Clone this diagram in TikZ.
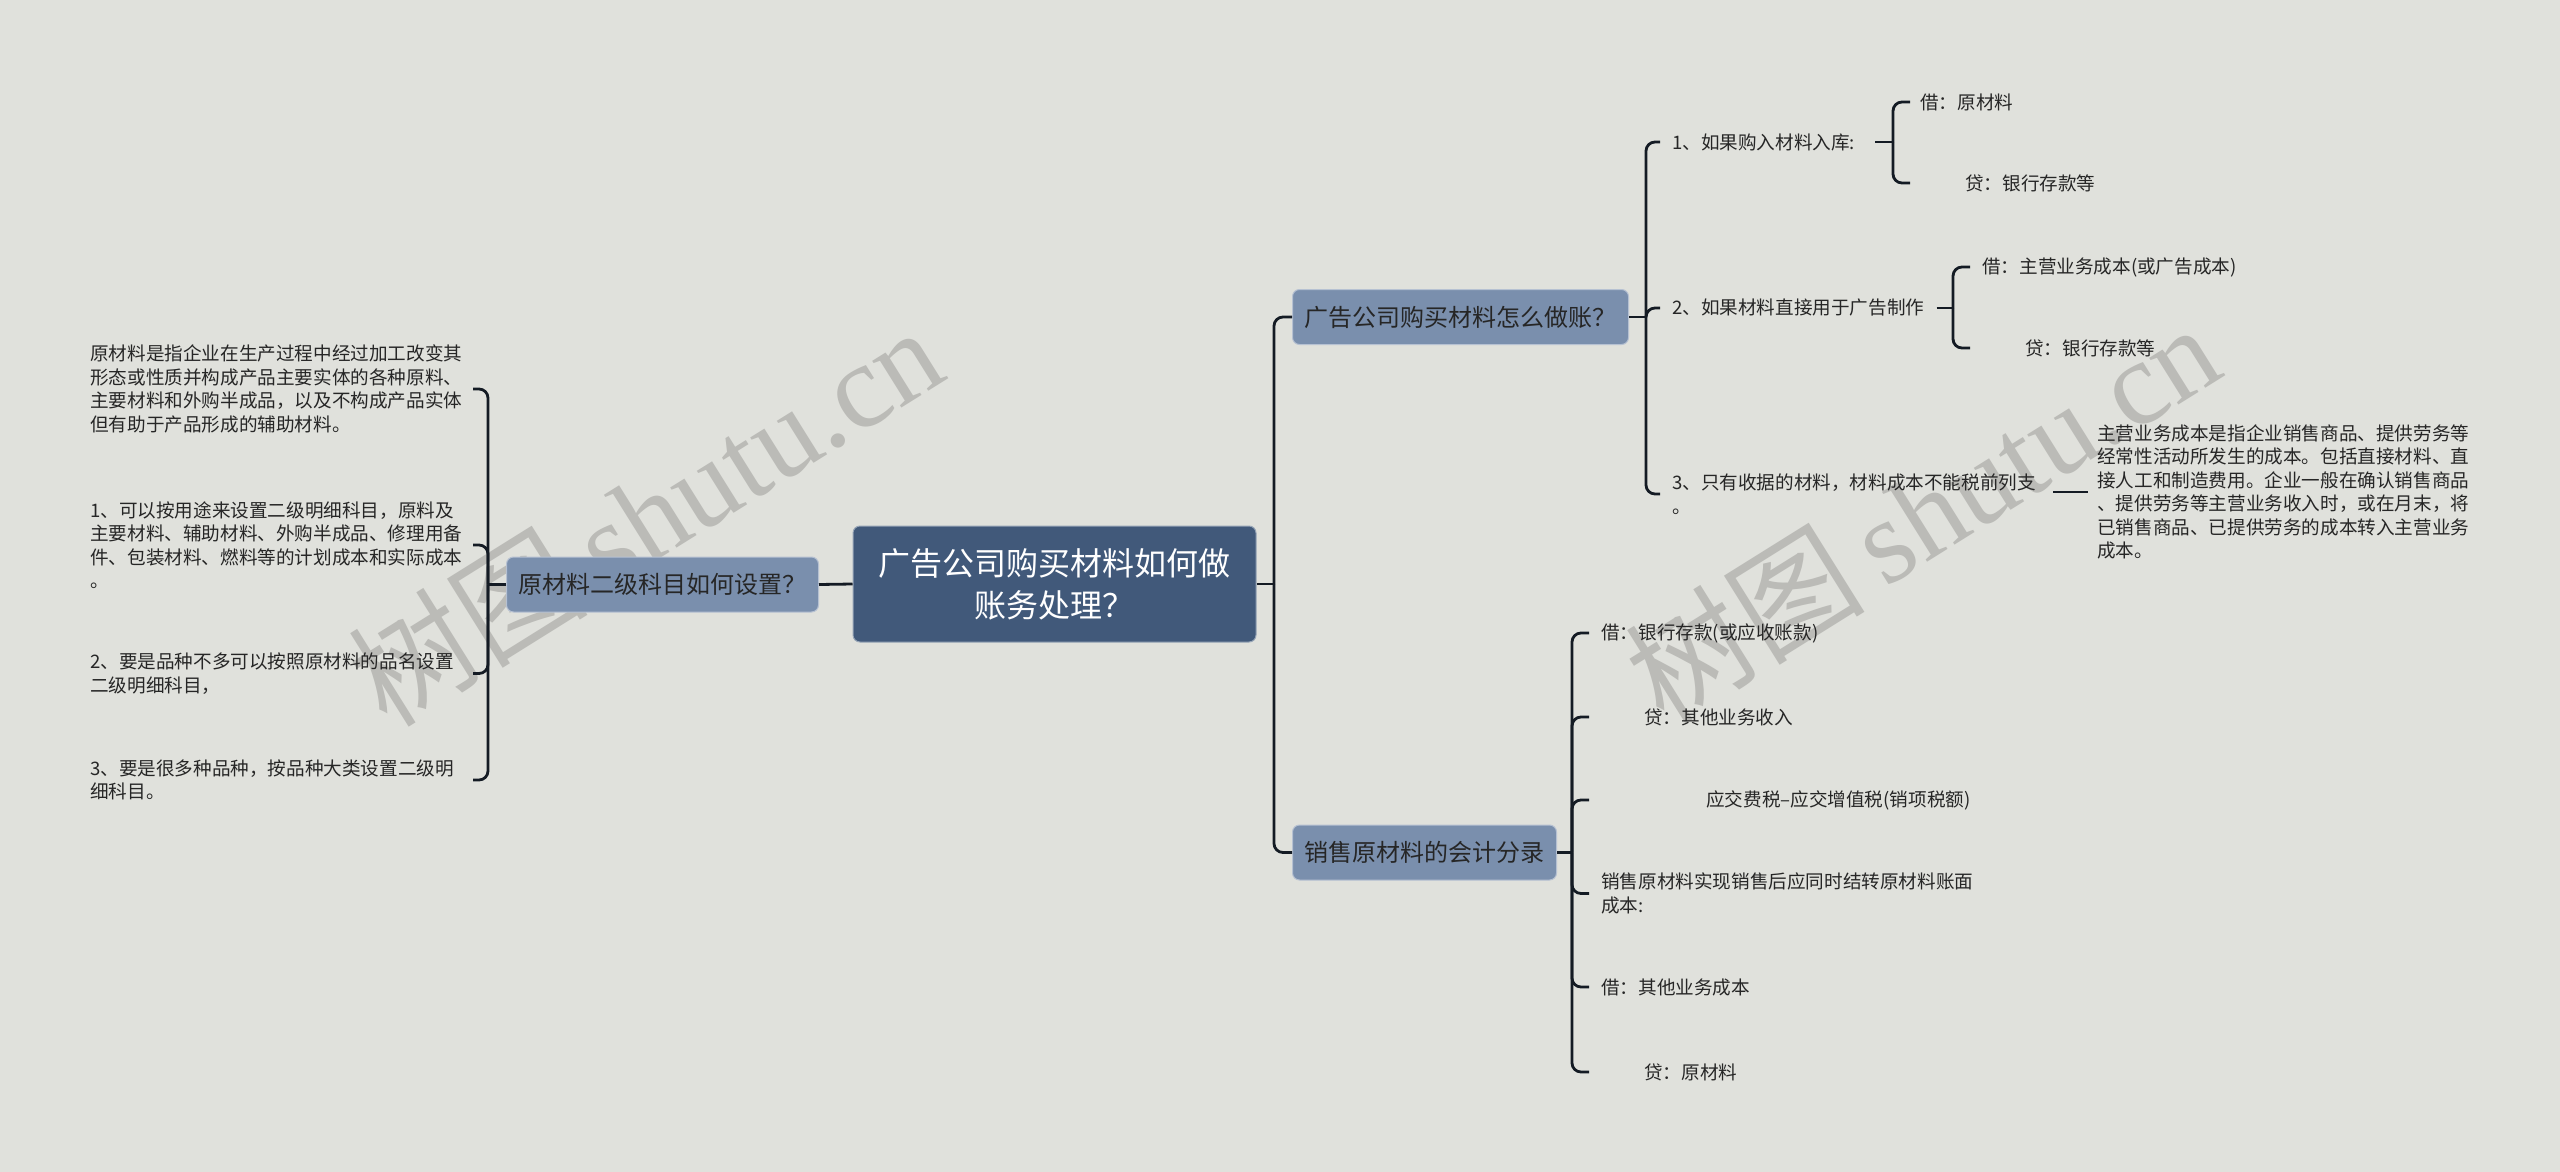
\documentclass[tikz,border=0pt]{standalone}
\usepackage{fontspec}
\setmainfont{Noto Sans CJK SC}
\newfontfamily\wmlat{Liberation Serif}
\usetikzlibrary{calc}
\definecolor{bg}{HTML}{E0E1DC}
\definecolor{rootc}{HTML}{41597A}
\definecolor{subc}{HTML}{7A8FAD}
\definecolor{linec}{HTML}{141B24}
\definecolor{txt}{HTML}{262626}
\definecolor{wm}{HTML}{BBBBB7}
\begin{document}
\begin{tikzpicture}[x=1pt,y=-1pt,
  root/.style={fill=rootc, draw=rootc!55!white, line width=1pt, rounded corners=7pt, text=white,
    font=\fontsize{32}{42}\selectfont, align=center, minimum width=403pt, minimum height=116pt, inner sep=0pt},
  sub/.style={fill=subc, draw=subc!55!white, line width=1pt, rounded corners=7pt, text=txt,
    font=\fontsize{24}{30}\selectfont, minimum height=55pt, inner xsep=12pt, inner ysep=0pt, anchor=west},
  leaf/.style={text=txt, font=\fontsize{18.6}{23.5}\selectfont, align=left, inner sep=0pt, anchor=west},
  conn/.style={draw=linec, line width=2.8pt, rounded corners=9pt},
  wmark/.style={text=wm, rotate=32, inner sep=0pt, font=\fontsize{120}{120}\selectfont}
]
\useasboundingbox (0,0) rectangle (2560,1172);
\fill[bg] (0,0) rectangle (2560,1172);

% watermarks
\node[wmark] (wm1) at (645,515) {树图\,{\wmlat shutu.cn}};
\node[wmark] (wm2) at (1922,512) {树图\,{\wmlat shutu.cn}};

% main nodes
\node[root] (root) at (1054.5,584) {广告公司购买材料如何做\\账务处理？};
\node[sub, minimum width=311pt] (L) at (506,584.5) {原材料二级科目如何设置？};
\node[sub, minimum width=334pt] (U) at (1292,317) {广告公司购买材料怎么做账？};
\node[sub, minimum width=263pt] (D) at (1292,852.5) {销售原材料的会计分录};

% left leaves
\node[leaf, text width=372pt] (T1) at (90,389) {原材料是指企业在生产过程中经过加工改变其\\形态或性质并构成产品主要实体的各种原料、\\主要材料和外购半成品，以及不构成产品实体\\但有助于产品形成的辅助材料。};
\node[leaf, text width=372pt] (T2) at (90,545) {1、可以按用途来设置二级明细科目，原料及\\主要材料、辅助材料、外购半成品、修理用备\\件、包装材料、燃料等的计划成本和实际成本\\。};
\node[leaf, text width=372pt] (T3) at (90,673.5) {2、要是品种不多可以按照原材料的品名设置\\二级明细科目，};
\node[leaf, text width=372pt] (T4) at (90,780) {3、要是很多种品种，按品种大类设置二级明\\细科目。};

% upper leaves
\node[leaf] (c1) at (1672,142) {1、如果购入材料入库:};
\node[leaf] (g11) at (1920,102) {借：原材料};
\node[leaf] (g12) at (1965,183) {贷：银行存款等};
\node[leaf] (c2) at (1672,308) {2、如果材料直接用于广告制作};
\node[leaf] (g21) at (1982,267) {借：主营业务成本(或广告成本)};
\node[leaf] (g22) at (2025,348) {贷：银行存款等};
\node[leaf, text width=370pt] (c3) at (1672,494) {3、只有收据的材料，材料成本不能税前列支\\。};
\node[leaf, text width=376pt] (long) at (2097,492) {主营业务成本是指企业销售商品、提供劳务等\\经常性活动所发生的成本。包括直接材料、直\\接人工和制造费用。企业一般在确认销售商品\\、提供劳务等主营业务收入时，或在月末，将\\已销售商品、已提供劳务的成本转入主营业务\\成本。};

% lower leaves
\node[leaf] (d1) at (1601,633) {借：银行存款(或应收账款)};
\node[leaf] (d2) at (1644,717) {贷：其他业务收入};
\node[leaf] (d3) at (1706,800) {应交费税–应交增值税(销项税额)};
\node[leaf] (d4) at (1601,893.5) {销售原材料实现销售后应同时结转原材料账面\\成本:};
\node[leaf] (d5) at (1601,987) {借：其他业务成本};
\node[leaf] (d6) at (1644,1072) {贷：原材料};

% bracket coordinates
\coordinate (rb) at (1274,584);
\coordinate (lb) at (488,584.5);
\coordinate (lend) at (473,0);
\coordinate (ub) at (1646,317);
\coordinate (uend) at (1660,0);
\coordinate (b1) at (1893,142);
\coordinate (b1end) at (1910,0);
\coordinate (b2) at (1953,308);
\coordinate (b2end) at (1970,0);
\coordinate (db) at (1572,852.5);
\coordinate (dend) at (1589,0);

% connectors
\draw[conn] (L.east) -- (root.west);
\draw[conn] (root.east) -- (rb);
\draw[conn] (rb) |- (U.west);
\draw[conn] (rb) |- (D.west);

\draw[conn] (L.west) -- (lb);
\foreach \t in {T1,T2,T3,T4}{\draw[conn] (lb) |- (\t.east -| lend);}

\draw[conn] (U.east) -- (ub);
\foreach \t in {c1,c2,c3}{\draw[conn] (ub) |- (\t.west -| uend);}

\draw[conn] ([xshift=20pt]c1.east) -- (b1);
\foreach \t in {g11,g12}{\draw[conn] (b1) |- (\t.west -| b1end);}
\draw[conn] ([xshift=12pt]c2.east) -- (b2);
\foreach \t in {g21,g22}{\draw[conn] (b2) |- (\t.west -| b2end);}
\draw[conn] ([xshift=11pt]c3.east |- long.west) -- ([xshift=-9pt]long.west);

\draw[conn] (D.east) -- (db);
\foreach \t in {d1,d2,d3,d4,d5,d6}{\draw[conn] (db) |- (\t.west -| dend);}
\end{tikzpicture}
\end{document}
